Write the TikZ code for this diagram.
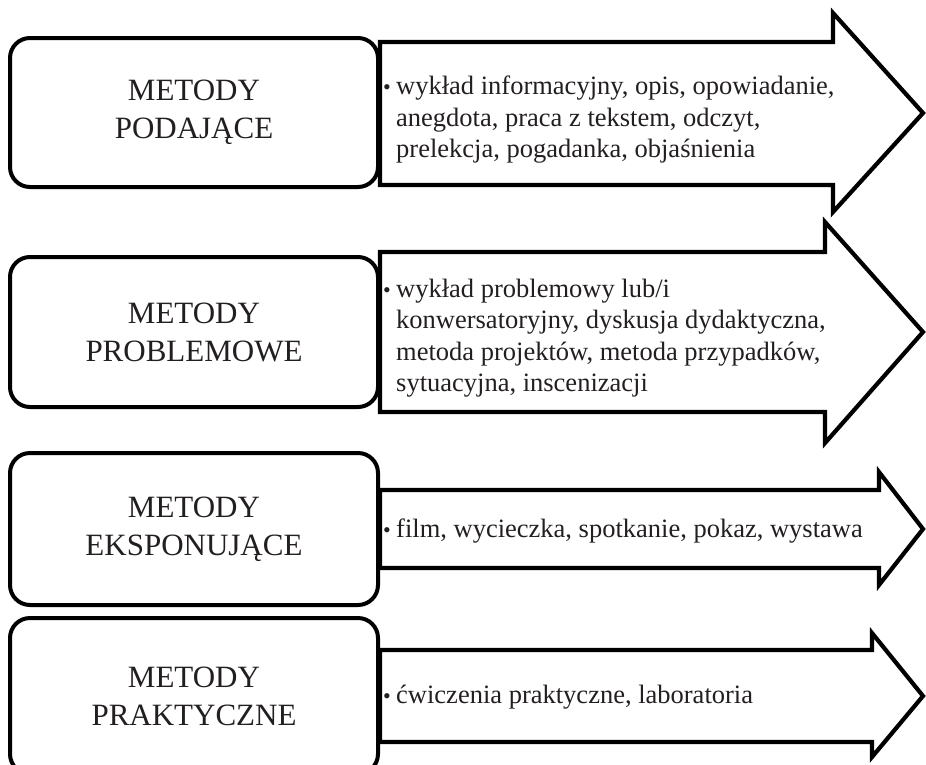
\documentclass[tikz,border=0pt]{standalone}
\usepackage{fontspec}
\setmainfont{Liberation Serif}
\definecolor{ink}{HTML}{231F20}
\tikzset{
  mbox/.style={draw=black, line width=4pt, rounded corners=20pt, fill=white,
    minimum width=368pt, inner sep=0pt, text=ink,
    font=\fontsize{31}{38}\selectfont, align=center},
  arrowshape/.style={draw=black, line width=4.2pt, fill=white, line join=miter},
  itm/.style={font=\fontsize{26.5}{31.6}\selectfont, align=left, anchor=base west, inner sep=0pt, text=ink},
  bul/.style={font=\fontsize{22}{31.6}\selectfont, inner sep=0pt, anchor=base, text=ink}
}
\begin{document}
\begin{tikzpicture}[x=1pt,y=-1pt]
\useasboundingbox (0,0) rectangle (926,764);
\clip (0,0) rectangle (926,764);
\fill[white] (0,0) rectangle (926,764);
% arrows
\draw[arrowshape] (380,42) -- (833,42) -- (833,13) -- (923,113) -- (833,212) -- (833,185) -- (380,185) -- cycle;
\draw[arrowshape] (380,252) -- (825,252) -- (825,222) -- (923,332) -- (825,443) -- (825,412) -- (380,412) -- cycle;
\draw[arrowshape] (380,490) -- (879,490) -- (879,472) -- (923,529) -- (879,585) -- (879,568) -- (380,568) -- cycle;
\draw[arrowshape] (380,650) -- (872,650) -- (872,633) -- (923,696) -- (872,757) -- (872,742) -- (380,742) -- cycle;
% boxes
\node[mbox, minimum height=149pt] (m1) at (194,112.5) {METODY\\PODAJĄCE};
\node[mbox, minimum height=150pt] (m2) at (194,332) {METODY\\PROBLEMOWE};
\node[mbox, minimum height=152pt] (m3) at (194,529) {METODY\\EKSPONUJĄCE};
\node[mbox, minimum height=156pt] (m4) at (194,696) {METODY\\PRAKTYCZNE};
% items (anchored at the baseline of the last line)
\node[bul] (b1) at (387,94.5) {•};
\node[itm] (t1) at (396,157.7) {wykład informacyjny, opis, opowiadanie,\\anegdota, praca z tekstem, odczyt,\\prelekcja, pogadanka, objaśnienia};
\node[bul] (b2) at (387,297) {•};
\node[itm] (t2) at (396,391.8) {wykład problemowy lub/i\\konwersatoryjny, dyskusja dydaktyczna,\\metoda projektów, metoda przypadków,\\sytuacyjna, inscenizacji};
\node[bul] (b3) at (387,537) {•};
\node[itm] (t3) at (396,537) {film, wycieczka, spotkanie, pokaz, wystawa};
\node[bul] (b4) at (387,703) {•};
\node[itm] (t4) at (396,703) {ćwiczenia praktyczne, laboratoria};
\end{tikzpicture}
\end{document}
